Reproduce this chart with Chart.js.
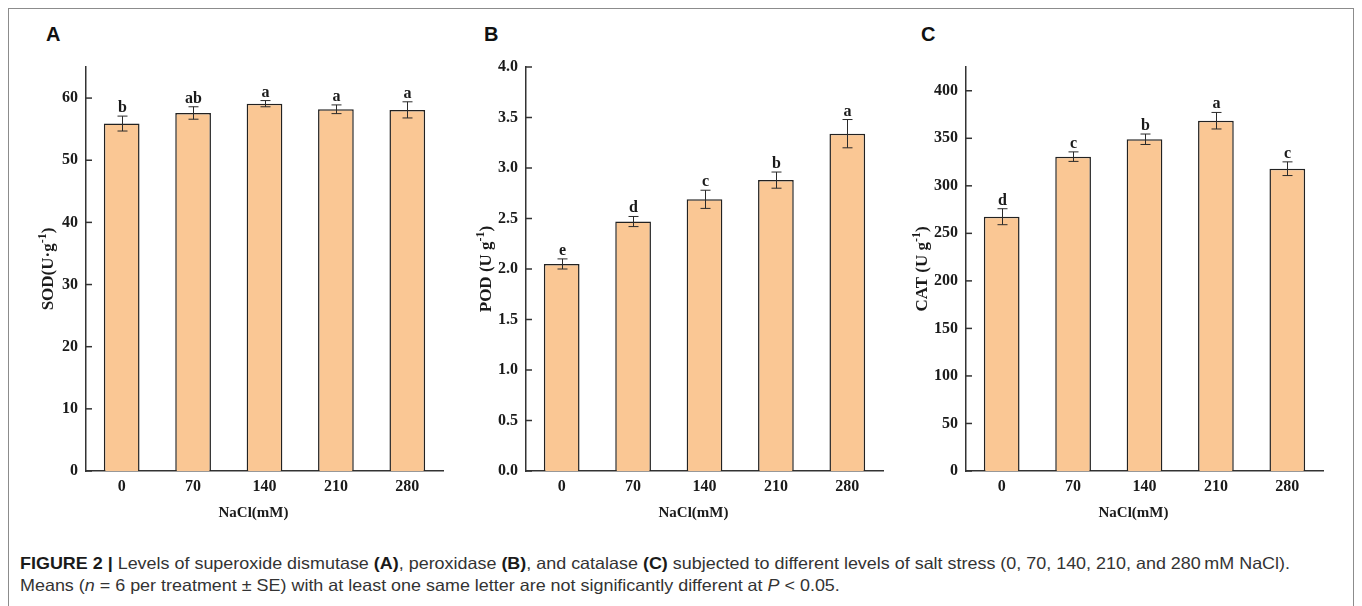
<!DOCTYPE html>
<html>
<head>
<meta charset="utf-8">
<script src="https://cdn.jsdelivr.net/npm/chart.js@4.4.1/dist/chart.umd.min.js"></script>
<style>
  html, body { margin: 0; padding: 0; background: #ffffff; }
  body { width: 1362px; height: 606px; position: relative; overflow: hidden; }
  .frame { position: absolute; left: 8px; top: 8px; width: 1346px; height: 640px;
           border: 1.5px solid #8c8c8c; box-sizing: border-box; }
  canvas { position: absolute; }
  .tag { position: absolute; font: bold 20px "Liberation Sans", Arial, sans-serif; color: #111; }
  .caption { position: absolute; left: 20px; top: 552px; white-space: nowrap;
             font: 16.5px "Liberation Sans Narrow", "Liberation Sans", Arial, sans-serif;
             color: #333; line-height: 22px; transform-origin: 0 0; }
  .caption b { color: #1a1a1a; }
</style>
</head>
<body>
<div class="frame"></div>
<div class="tag" style="left:46px; top:23px;">A</div>
<div class="tag" style="left:484px; top:23px;">B</div>
<div class="tag" style="left:921px; top:23px;">C</div>
<canvas id="sod" width="450" height="500" style="left:10px; top:40px;"></canvas>
<canvas id="pod" width="450" height="500" style="left:450px; top:40px;"></canvas>
<canvas id="cat" width="450" height="500" style="left:890px; top:40px;"></canvas>
<div class="caption" id="caption">
  <div id="cap1"><b>FIGURE 2 |</b> Levels of superoxide dismutase <b>(A)</b>, peroxidase <b>(B)</b>, and catalase <b>(C)</b> subjected to different levels of salt stress (0, 70, 140, 210, and 280&#8201;mM NaCl).</div>
  <div>Means (<i>n</i> = 6 per treatment &#177; SE) with at least one same letter are not significantly different at <i>P</i> &lt; 0.05.</div>
</div>
<script>
// NaCl treatment levels (mM)
const doses = ['0', '70', '140', '210', '280'];

// Superoxide dismutase (U·g-1)
const sodMean = [55.9, 57.6, 59.1, 58.2, 58.1];
const sodSE = [1.2, 1.0, 0.5, 0.7, 1.3];
const sodLetters = ['b', 'ab', 'a', 'a', 'a'];
const sodTicks = [0, 10, 20, 30, 40, 50, 60];
const sodAxisMax = 65;

// Peroxidase (U g-1)
const podMean = [2.05, 2.47, 2.69, 2.88, 3.34];
const podSE = [0.05, 0.05, 0.09, 0.08, 0.14];
const podLetters = ['e', 'd', 'c', 'b', 'a'];
const podTicks = [0, 0.5, 1.0, 1.5, 2.0, 2.5, 3.0, 3.5, 4.0];
const podAxisMax = 4.0;

// Catalase (U g-1)
const catMean = [267.5, 330.7, 349.0, 368.5, 318.0];
const catSE = [8.4, 5.0, 5.5, 8.7, 7.2];
const catLetters = ['d', 'c', 'b', 'a', 'c'];
const catTicks = [0, 50, 100, 150, 200, 250, 300, 350, 400];
const catAxisMax = 425;

const SERIF = '"Liberation Serif", "Times New Roman", serif';
const INK = '#1a1a1a';
const AXIS = '#333333';

// Error bars, significance letters, inward y ticks and axis titles
const panelDecor = {
  id: 'panelDecor',
  afterDatasetsDraw(chart, args, o) {
    const ctx = chart.ctx;
    const area = chart.chartArea;
    const y = chart.scales.y;
    const meta = chart.getDatasetMeta(0);
    ctx.save();

    // inward tick marks on the value axis
    ctx.strokeStyle = AXIS;
    ctx.lineWidth = 1.5;
    y.ticks.forEach(t => {
      const py = y.getPixelForValue(t.value);
      ctx.beginPath();
      ctx.moveTo(area.left, py);
      ctx.lineTo(area.left + 6, py);
      ctx.stroke();
    });

    // mean ± SE whiskers and letters
    ctx.lineWidth = 1;
    ctx.strokeStyle = '#2a2a2a';
    ctx.fillStyle = INK;
    ctx.font = 'bold 16px ' + SERIF;
    ctx.textAlign = 'center';
    ctx.textBaseline = 'alphabetic';
    meta.data.forEach((bar, i) => {
      const m = o.means[i], se = o.errors[i];
      const yt = y.getPixelForValue(m + se);
      const yb = y.getPixelForValue(m - se);
      const cx = Math.round(bar.x) + 0.5;
      ctx.beginPath();
      ctx.moveTo(cx, yt); ctx.lineTo(cx, yb);
      ctx.moveTo(cx - 5, yt); ctx.lineTo(cx + 5, yt);
      ctx.moveTo(cx - 5, yb); ctx.lineTo(cx + 5, yb);
      ctx.stroke();
      ctx.fillText(o.letters[i], cx, yt - 4);
    });

    // rotated y title with superscript exponent
    const mainFont = 'bold 17px ' + SERIF;
    const supFont = 'bold 12px ' + SERIF;
    ctx.font = mainFont;
    const w1 = ctx.measureText(o.title[0]).width;
    const w3 = ctx.measureText(o.title[2]).width;
    ctx.font = supFont;
    const w2 = ctx.measureText(o.title[1]).width;
    const total = w1 + w2 + w3;
    ctx.translate(area.left - o.titleGap, (area.top + area.bottom) / 2);
    ctx.rotate(-Math.PI / 2);
    ctx.textAlign = 'left';
    ctx.textBaseline = 'middle';
    let x0 = -total / 2;
    ctx.font = mainFont;
    ctx.fillText(o.title[0], x0, 0);
    x0 += w1;
    ctx.font = supFont;
    ctx.fillText(o.title[1], x0, -6);
    x0 += w2;
    ctx.font = mainFont;
    ctx.fillText(o.title[2], x0, 0);
    ctx.restore();

    // x title
    ctx.save();
    ctx.fillStyle = INK;
    ctx.font = 'bold 15px ' + SERIF;
    ctx.textAlign = 'center';
    ctx.textBaseline = 'middle';
    ctx.fillText('NaCl(mM)', (area.left + area.right) / 2 - 11, area.bottom + 42);
    ctx.restore();
  }
};

function makePanel(id, means, errors, letters, ticks, axisMax, decimals, title, titleGap) {
  new Chart(document.getElementById(id), {
    type: 'bar',
    data: {
      labels: doses,
      datasets: [{
        data: means,
        backgroundColor: '#FAC794',
        borderColor: '#222222',
        borderWidth: 1.5,
        borderSkipped: 'bottom',
        barPercentage: 0.5,
        categoryPercentage: 1.0
      }]
    },
    options: {
      responsive: false,
      animation: false,
      devicePixelRatio: 1,
      layout: { padding: { top: 27, right: 17, left: 0, bottom: 0 } },
      plugins: {
        legend: { display: false },
        tooltip: { enabled: false },
        panelDecor: { means, errors, letters, title, titleGap }
      },
      scales: {
        x: {
          grid: { display: false, drawTicks: false },
          border: { display: true, color: AXIS, width: 1.5 },
          ticks: { color: INK, font: { family: SERIF, size: 16, weight: 'bold' }, padding: 6, maxRotation: 0 },
          afterFit(s) { s.height = 69; }
        },
        y: {
          min: 0,
          max: axisMax,
          grid: { display: false, drawTicks: false },
          border: { display: true, color: AXIS, width: 1.5 },
          ticks: {
            color: INK,
            font: { family: SERIF, size: 16, weight: 'bold' },
            padding: 8,
            callback: v => Number(v).toFixed(decimals)
          },
          afterBuildTicks(s) { s.ticks = ticks.map(v => ({ value: v })); },
          afterFit(s) { s.width = 76; }
        }
      }
    },
    plugins: [panelDecor]
  });
}

makePanel('sod', sodMean, sodSE, sodLetters, sodTicks, sodAxisMax, 0, ['SOD(U\u00B7g', '-1', ')'], 37);
makePanel('pod', podMean, podSE, podLetters, podTicks, podAxisMax, 1, ['POD (U g', '-1', ')'], 39);
makePanel('cat', catMean, catSE, catLetters, catTicks, catAxisMax, 0, ['CAT (U g', '-1', ')'], 43);

// fit the caption's first line to the figure width
(function fitCaption() {
  const cap = document.getElementById('caption');
  const line = document.getElementById('cap1');
  const range = document.createRange();
  range.selectNodeContents(line);
  const w = range.getBoundingClientRect().width;
  if (w > 0) cap.style.transform = 'scaleX(' + (1270 / w) + ')';
})();
</script>
</body>
</html>
